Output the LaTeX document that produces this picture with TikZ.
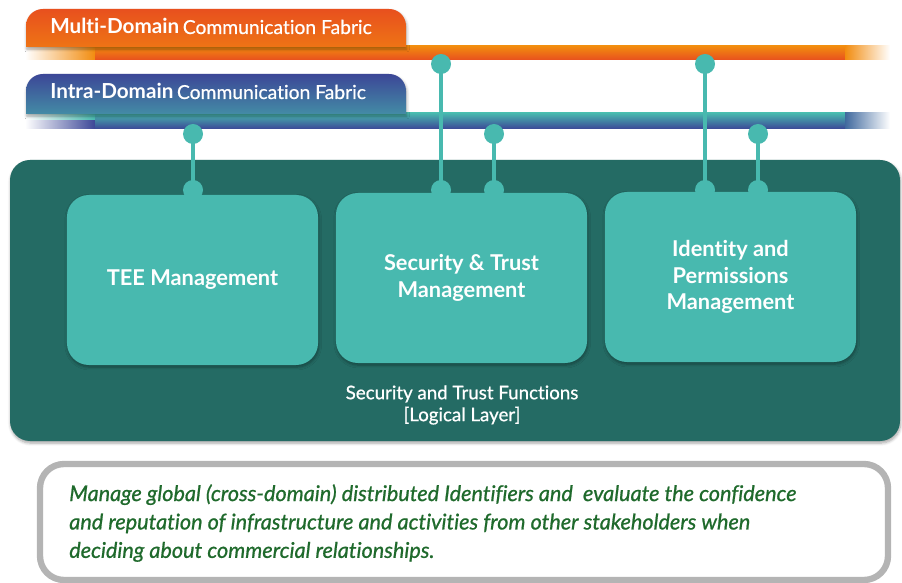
\documentclass[tikz,border=0pt]{standalone}
\usepackage{fontspec}
\setmainfont{Lato}[Ligatures=NoCommon]
\usetikzlibrary{shadows.blur}

\definecolor{darkteal}{HTML}{246B64}
\definecolor{lightteal}{HTML}{48B9AF}
\definecolor{tabred}{HTML}{E8501E}
\definecolor{tabyellow}{HTML}{F28C0F}
\definecolor{tabblue}{HTML}{3C4797}
\definecolor{textgreen}{HTML}{1F6A2C}
\definecolor{boxgray}{HTML}{B4B4B4}

\tikzset{
  softshadow/.style={blur shadow={shadow blur steps=6, shadow xshift=0.5pt, shadow yshift=-1.5pt, shadow opacity=35}},
  funcbox/.style={fill=lightteal, rounded corners=0.55cm, minimum width=6.275cm, minimum height=4.25cm,
    text=white, align=center, font=\bfseries\fontsize{15.5}{19}\selectfont, softshadow},
  pin/.style={circle, fill=lightteal, inner sep=0pt, minimum size=0.5cm},
  pinline/.style={draw=lightteal, line width=2.8pt},
  tablabel/.style={text=white, anchor=base west, inner sep=0pt}
}

\begin{document}
\begin{tikzpicture}[x=0.025cm, y=-0.025cm]
 \useasboundingbox (0,0) rectangle (902,583);

 % multi-domain fabric
 \fill[left color=white, right color=tabyellow] (25,46) rectangle (95,60);
 \fill[top color=tabyellow, bottom color=tabred] (95,46) rectangle (845,60);
 \fill[left color=tabyellow, right color=white] (845,46) rectangle (890,60);
 \path[top color=tabred, bottom color=tabyellow!60!tabred, softshadow] (26,47) [rounded corners=12]-- (26,9) -- (406,9) [sharp corners]-- (406,47) -- cycle;
 \node[tablabel] (multi) at (50,34) {{\bfseries\fontsize{14.7}{17}\selectfont Multi-Domain} {\addfontfeatures{FakeBold=0.6}\fontsize{13.7}{16}\selectfont Communication Fabric}};

 % intra-domain fabric
 \fill[left color=white, right color=lightteal] (25,113) rectangle (95,121);
 \fill[left color=white, right color=tabblue] (25,121) rectangle (95,129);
 \fill[top color=lightteal, bottom color=tabblue] (95,113) rectangle (845,129);
 \fill[left color=tabblue!70!lightteal, right color=white] (845,113) rectangle (890,129);
 \path[top color=tabblue, bottom color=tabblue!40!lightteal, softshadow] (26,114) [rounded corners=12]-- (26,74) -- (406,74) [sharp corners]-- (406,114) -- cycle;
 \node[tablabel] (intra) at (50,99) {{\bfseries\fontsize{14.7}{17}\selectfont Intra-Domain} {\addfontfeatures{FakeBold=0.6}\fontsize{13.7}{16}\selectfont Communication Fabric}};

 % logical layer
 \fill[darkteal, rounded corners=0.5cm, softshadow] (10,160) rectangle (900,441);
 \node[text=white, align=center, font=\addfontfeatures{FakeBold=0.8}\fontsize{13.3}{15.6}\selectfont] (layer) at (462,405) {Security and Trust Functions\\{[}Logical Layer{]}};

 % pins (lines first, dots on top)
 \coordinate (tee up) at (193,134);
 \coordinate (tee down) at (193,190);
 \coordinate (sec multi) at (441,64);
 \coordinate (sec multi down) at (441,190);
 \coordinate (sec intra) at (494,134);
 \coordinate (sec intra down) at (494,190);
 \coordinate (id multi) at (705,64);
 \coordinate (id multi down) at (705,190);
 \coordinate (id intra) at (758,134);
 \coordinate (id intra down) at (758,190);
 \draw[pinline] (tee up) -- (tee down);
 \draw[pinline] (sec multi) -- (sec multi down);
 \draw[pinline] (sec intra) -- (sec intra down);
 \draw[pinline] (id multi) -- (id multi down);
 \draw[pinline] (id intra) -- (id intra down);

 \node[funcbox] (tee) at (192.5,280) {TEE Management};
 \node[funcbox] (sec) at (461.5,278) {Security \& Trust\\Management};
 \node[funcbox] (id) at (730.5,277) {Identity and\\Permissions\\Management};

 \foreach \p in {tee up, tee down, sec multi, sec multi down, sec intra, sec intra down, id multi, id multi down, id intra, id intra down}
   \node[pin] at (\p) {};

 % description
 \draw[boxgray, line width=4.5pt, fill=white, rounded corners=0.6cm] (40,464) rectangle (888,580);
 \node[anchor=north west, align=left, text=textgreen, inner sep=0pt,
   font=\itshape\addfontfeatures{FakeBold=0.8}\fontsize{15.4}{20.2}\selectfont] (desc) at (69,484)
   {Manage global (cross-domain) distributed Identifiers and\ \ evaluate the confidence\\
    and reputation of infrastructure and activities from other stakeholders when\\
    deciding about commercial relationships.};
\end{tikzpicture}
\end{document}
